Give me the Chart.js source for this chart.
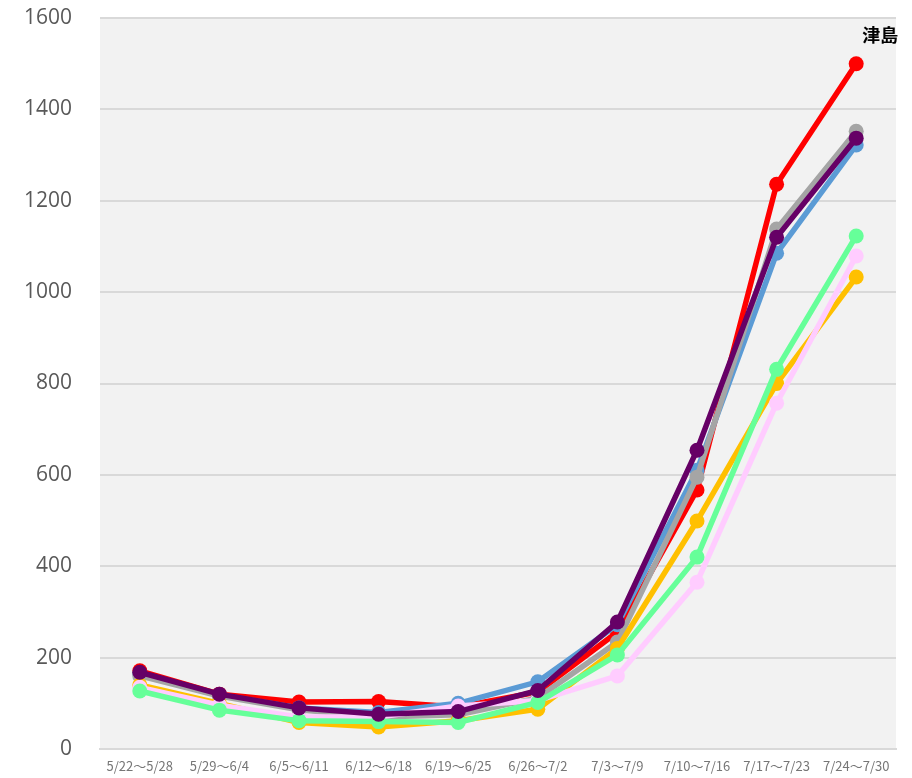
<!DOCTYPE html>
<html>
<head>
<meta charset="utf-8">
<script src="https://cdn.jsdelivr.net/npm/chart.js@4/dist/chart.umd.min.js"></script>
<style>
  html, body { margin: 0; padding: 0; background: #fff; }
  #wrap { width: 912px; height: 778px; }
</style>
</head>
<body>
<div id="wrap"><canvas id="chart" width="912" height="778"></canvas></div>
<script>
// Weekly values
const weeks = ['5/22〜5/28', '5/29〜6/4', '6/5〜6/11', '6/12〜6/18', '6/19〜6/25',
  '6/26〜7/2', '7/3〜7/9', '7/10〜7/16', '7/17〜7/23', '7/24〜7/30'];
const yTicks = [0, 200, 400, 600, 800, 1000, 1200, 1400, 1600];

const redValues = [171, 120, 103, 104, 92, 125, 256, 567, 1236, 1500];
const blueValues = [165, 118, 90, 80, 100, 147, 272, 610, 1085, 1322];
const grayValues = [160, 116, 86, 70, 75, 112, 234, 595, 1138, 1352];
const yellowValues = [140, 100, 58, 48, 62, 87, 220, 499, 800, 1033];
const pinkValues = [135, 96, 70, 70, 94, 106, 160, 365, 757, 1079];
const greenValues = [127, 85, 62, 60, 58, 102, 206, 420, 831, 1123];
const purpleValues = [168, 120, 90, 76, 82, 128, 278, 654, 1120, 1337];

const seriesLabel = '津島';

function series(data, color) {
  return {
    data: data,
    borderColor: color,
    backgroundColor: color,
    pointBackgroundColor: color,
    pointBorderColor: color,
    borderWidth: 5.5,
    pointRadius: 7.5,
    pointBorderWidth: 0,
    tension: 0,
  };
}

// first in list is drawn on top
const datasets = [
  series(purpleValues, '#660066'),
  series(greenValues, '#66FF99'),
  series(pinkValues, '#FFCCFF'),
  series(yellowValues, '#FFC000'),
  series(grayValues, '#A5A5A5'),
  series(blueValues, '#5B9BD5'),
  series(redValues, '#FF0000'),
];

const plotBackground = {
  id: 'plotBackground',
  beforeDraw(chart) {
    const a = chart.chartArea;
    const ctx = chart.ctx;
    ctx.save();
    ctx.fillStyle = '#F2F2F2';
    ctx.fillRect(a.left, a.top, a.right - a.left, a.bottom - a.top);
    ctx.restore();
  },
};

// the label near the end of the red line
const endLabel = {
  id: 'endLabel',
  afterDatasetsDraw(chart) {
    const meta = chart.getDatasetMeta(datasets.length - 1);
    const last = meta.data[meta.data.length - 1];
    const ctx = chart.ctx;
    ctx.save();
    ctx.font = 'bold 18px "Noto Sans CJK JP"';
    ctx.fillStyle = '#000';
    ctx.textAlign = 'center';
    ctx.textBaseline = 'middle';
    ctx.fillText(seriesLabel, last.x + 24, last.y - 29);
    ctx.restore();
  },
};

new Chart(document.getElementById('chart'), {
  type: 'line',
  data: { labels: weeks, datasets: datasets },
  plugins: [plotBackground, endLabel],
  options: {
    responsive: false,
    animation: false,
    layout: { padding: { top: 18, right: 16, left: 0, bottom: 0 } },
    plugins: { legend: { display: false }, tooltip: { enabled: false } },
    scales: {
      x: {
        offset: true,
        grid: { display: false, drawTicks: false },
        border: { display: true, color: '#D9D9D9', width: 2 },
        ticks: {
          color: '#767676',
          font: { family: '"Noto Sans CJK JP"', size: 13 },
          maxRotation: 0,
          autoSkip: false,
          padding: 9,
        },
        afterFit(scale) {
          scale.height = 29;
          scale.paddingLeft = 0;
          scale.paddingRight = 0;
        },
      },
      y: {
        min: 0,
        max: 1600,
        afterBuildTicks(scale) { scale.ticks = yTicks.map(v => ({ value: v })); },
        grid: { color: '#D9D9D9', lineWidth: 2, drawTicks: false },
        border: { display: false },
        ticks: {
          color: '#595959',
          font: { family: '"Open Sans"', size: 21 },
          padding: 28,
          callback: (v) => String(v),
        },
        afterFit(scale) {
          scale.width = 100;
          scale.paddingTop = 0;
          scale.paddingBottom = 0;
        },
      },
    },
  },
});
</script>
</body>
</html>
